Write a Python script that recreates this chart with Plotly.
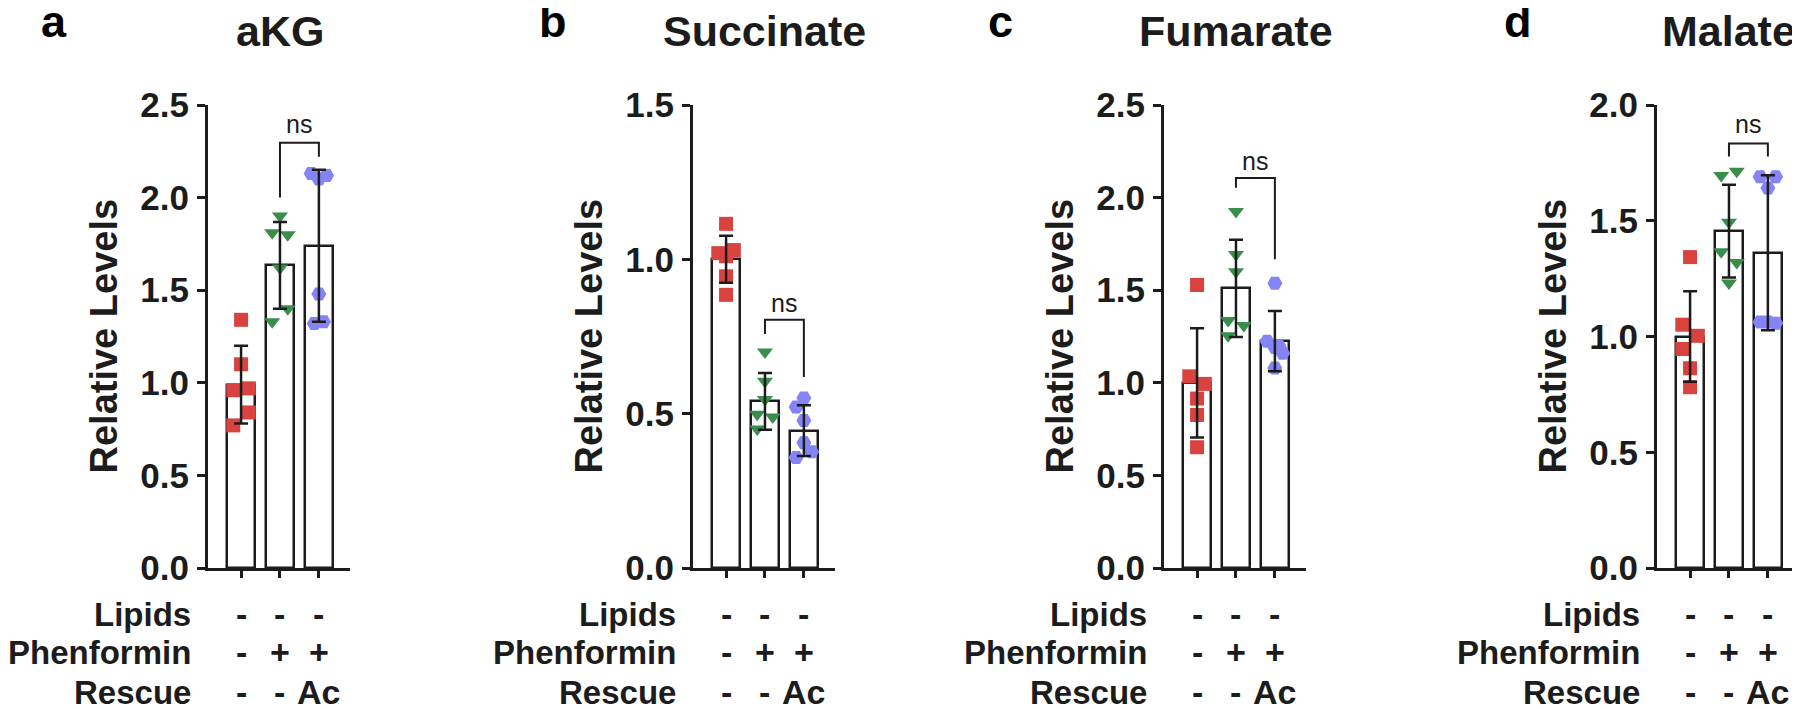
import plotly.graph_objects as go

W, H = 1800, 709

# ---------------- data ----------------
panel_letters = ["a", "b", "c", "d"]
metabolites = ["aKG", "Succinate", "Fumarate", "Malate"]
y_max = [2.5, 1.5, 2.5, 2.0]
y_step = [0.5, 0.5, 0.5, 0.5]

row_labels = ["Lipids", "Phenformin", "Rescue"]
lipids_row = ["-", "-", "-"]
phenformin_row = ["-", "+", "+"]
rescue_row = ["-", "-", "Ac"]

# bar means and SD (Control, Phenformin, Phenformin + Ac)
akg_mean = [0.99, 1.634, 1.74]
akg_sd = [0.21, 0.234, 0.41]
succ_mean = [1.0, 0.54, 0.445]
succ_sd = [0.076, 0.092, 0.082]
fum_mean = [1.0, 1.51, 1.225]
fum_sd = [0.295, 0.263, 0.163]
mal_mean = [1.0, 1.455, 1.362]
mal_sd = [0.196, 0.2, 0.335]

# individual replicates
akg_ctrl = [1.34, 1.10, 0.96, 0.97, 0.84, 0.77]
akg_phen = [1.90, 1.81, 1.80, 1.62, 1.40, 1.33]
akg_ac = [2.13, 2.10, 2.12, 1.48, 1.32, 1.33]

succ_ctrl = [1.115, 1.02, 1.01, 1.03, 0.945, 0.885]
succ_phen = [0.70, 0.605, 0.546, 0.498, 0.489, 0.45]
succ_ac = [0.551, 0.522, 0.478, 0.406, 0.358, 0.377]

fum_ctrl = [1.528, 1.035, 0.994, 0.915, 0.826, 0.652]
fum_phen = [1.925, 1.693, 1.599, 1.337, 1.31, 1.254]
fum_ac = [1.538, 1.224, 1.191, 1.159, 1.08, 1.20]

mal_ctrl = [1.343, 1.051, 1.003, 0.946, 0.863, 0.781]
mal_phen = [1.695, 1.714, 1.494, 1.366, 1.32, 1.231]
mal_ac = [1.69, 1.69, 1.642, 1.063, 1.063, 1.057]

# horizontal scatter of replicates (category units)
akg_jit = [[0, 0, -0.2, 0.2, 0.2, -0.2], [0, -0.2, 0.2, 0, 0.2, -0.2], [-0.2, 0, 0.2, 0, -0.12, 0.12]]
succ_jit = [[0, -0.2, 0, 0.2, 0, 0], [0, 0, 0, -0.2, 0.2, -0.2], [0, -0.2, 0, 0, -0.2, 0.2]]
fum_jit = [[0, -0.2, 0.2, 0, 0, 0], [0, 0, 0, -0.2, 0.2, -0.2], [0, -0.2, 0, 0.2, 0, 0.1]]
mal_jit = [[0, -0.2, 0.2, -0.2, 0, 0], [-0.2, 0.2, 0, -0.2, 0.2, 0], [-0.2, 0.2, 0, -0.2, 0, 0.2]]

# significance brackets between Phenformin and Phenformin + Ac: [top, left end, right end, label]
akg_bracket = [2.296, 2.0, 2.22, 2.40]
succ_bracket = [0.804, 0.758, 0.619, 0.86]
fum_bracket = [2.106, 2.053, 1.667, 2.20]
mal_bracket = [1.834, 1.778, 1.778, 1.92]
sig_label = "ns"

panels = [
    (akg_mean, akg_sd, [akg_ctrl, akg_phen, akg_ac], akg_jit, akg_bracket),
    (succ_mean, succ_sd, [succ_ctrl, succ_phen, succ_ac], succ_jit, succ_bracket),
    (fum_mean, fum_sd, [fum_ctrl, fum_phen, fum_ac], fum_jit, fum_bracket),
    (mal_mean, mal_sd, [mal_ctrl, mal_phen, mal_ac], mal_jit, mal_bracket),
]

# ---------------- style ----------------
OFF_X, OFF_Y = 8, 8  # page offset compensation
axis_px = [208, 693, 1164, 1657]
dom_w = 142
plot_top, plot_bot = 105, 568
INK = "#1c1c1c"
FONT = "Liberation Sans"
colors = ["#D8423F", "#3A8E4C", "#8484F6"]
symbols = ["square", "triangle-down", "hexagon2"]
sizes = [14, 14, 15]
cats = [0, 1, 2]


def px_x(v):
    return (v - OFF_X) / W


def px_y(v):
    return (H - (v - OFF_Y)) / H


fig = go.Figure()
annotations = []
shapes = []

for i, (means, sds, reps, jit, br) in enumerate(panels):
    n = i + 1
    xa, ya = f"x{n}" if n > 1 else "x", f"y{n}" if n > 1 else "y"
    fig.add_trace(go.Bar(
        x=cats, y=means, width=0.72, xaxis=xa, yaxis=ya,
        marker=dict(color="white", line=dict(color=INK, width=2.5)),
        hoverinfo="skip"))
    for g in range(3):
        fig.add_trace(go.Scatter(
            x=[cats[g] + j for j in jit[g]], y=reps[g], mode="markers",
            xaxis=xa, yaxis=ya, cliponaxis=False,
            marker=dict(symbol=symbols[g], size=sizes[g], color=colors[g], line=dict(width=0))))
    fig.add_trace(go.Scatter(
        x=cats, y=means, mode="markers", xaxis=xa, yaxis=ya,
        marker=dict(size=1, color="rgba(0,0,0,0)"),
        error_y=dict(type="data", array=sds, color=INK, thickness=2.5, width=7)))

    # bracket
    shapes.append(dict(
        type="path", xref=xa, yref=ya,
        path=f"M 1,{br[1]} L 1,{br[0]} L 2,{br[0]} L 2,{br[2]}",
        line=dict(color=INK, width=2)))
    annotations.append(dict(
        x=1.5, y=br[3], xref=xa, yref=ya, text=sig_label, showarrow=False,
        font=dict(family=FONT, size=25, color=INK), xanchor="center", yanchor="middle"))

    x0 = axis_px[i]
    fig.layout[f"xaxis{n if n > 1 else ''}"] = dict(
        domain=[px_x(x0), px_x(x0 + dom_w)], range=[-0.85, 2.8],
        tickvals=cats, ticktext=["", "", ""], ticks="outside", ticklen=7, tickwidth=3,
        tickcolor=INK, showline=True, linewidth=3, linecolor=INK,
        showgrid=False, zeroline=False, anchor=ya, fixedrange=True, automargin=False)
    fig.layout[f"yaxis{n if n > 1 else ''}"] = dict(
        domain=[px_y(plot_bot), px_y(plot_top)], range=[0, y_max[i]],
        dtick=y_step[i], tick0=0, tickformat=".1f", ticks="outside", ticklen=8, tickwidth=3,
        tickcolor=INK, showline=True, linewidth=3, linecolor=INK,
        showgrid=False, zeroline=False, anchor=xa, automargin=False, ticklabelstandoff=1,
        tickfont=dict(family=FONT, size=35, color=INK, weight="bold"))

    # axis title
    annotations.append(dict(
        x=px_x(x0 - 104), y=px_y((plot_top + plot_bot) / 2), xref="paper", yref="paper",
        text="Relative Levels", textangle=-90, showarrow=False,
        font=dict(family=FONT, size=38, color=INK, weight="bold"),
        xanchor="center", yanchor="middle"))
    # panel title
    annotations.append(dict(
        x=1, y=px_y(31), xref=xa, yref="paper", text=metabolites[i], showarrow=False,
        font=dict(family=FONT, size=43, color=INK, weight="bold"),
        xanchor="center", yanchor="middle"))
    # panel letter
    letter_x = [54, 553, 1000, 1518][i]
    annotations.append(dict(
        x=px_x(letter_x), y=px_y(22), xref="paper", yref="paper", text=panel_letters[i],
        showarrow=False, font=dict(family=FONT, size=45, color="black", weight="bold"),
        xanchor="center", yanchor="middle"))
    # condition rows
    row_y = [614, 652, 692]
    for r, (lab, signs) in enumerate(zip(row_labels, [lipids_row, phenformin_row, rescue_row])):
        annotations.append(dict(
            x=px_x(x0 - 15), y=px_y(row_y[r]), xref="paper", yref="paper", text=lab,
            showarrow=False, font=dict(family=FONT, size=33, color=INK, weight="bold"),
            xanchor="right", yanchor="middle"))
        for c, s in enumerate(signs):
            annotations.append(dict(
                x=cats[c], y=px_y(row_y[r]), xref=xa, yref="paper", text=s,
                showarrow=False, font=dict(family=FONT, size=34, color=INK, weight="bold"),
                xanchor="center", yanchor="middle"))

fig.update_layout(
    width=W, height=H, autosize=False,
    margin=dict(l=0, r=0, t=0, b=0, pad=0, autoexpand=False),
    paper_bgcolor="white", plot_bgcolor="white", showlegend=False,
    annotations=annotations, shapes=shapes, bargap=0)

fig.write_html("out.html")
